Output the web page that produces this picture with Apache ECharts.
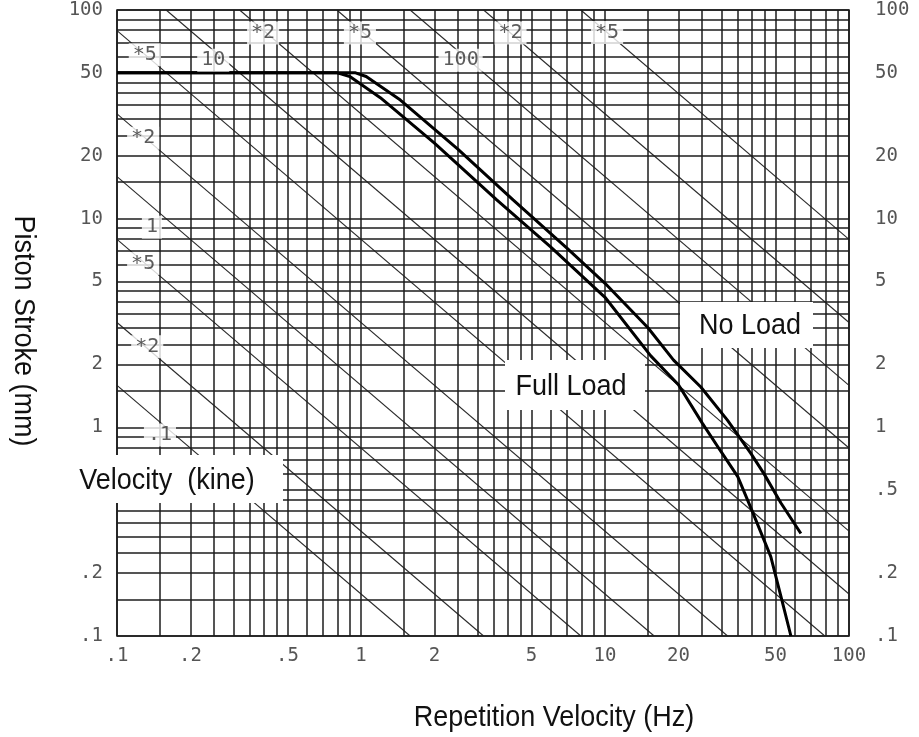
<!DOCTYPE html>
<html><head><meta charset="utf-8">
<script src="https://cdn.jsdelivr.net/npm/echarts@6/dist/echarts.min.js"></script>
<style>html,body{margin:0;padding:0;background:#fff}#c{width:919px;height:737px}</style>
</head><body><div id="c"></div>
<script>
// ---- tick labels ----
const xTickValues = [0.1, 0.2, 0.5, 1, 2, 5, 10, 20, 50, 100];
const xTickLabels = ['.1', '.2', '.5', '1', '2', '5', '10', '20', '50', '100'];
const yLeftTickValues = [0.1, 0.2, 1, 2, 5, 10, 20, 50, 100];
const yRightTickValues = [0.1, 0.2, 0.5, 1, 2, 5, 10, 20, 50, 100];
const yTickLabels = ['.1', '.2', '.5', '1', '2', '5', '10', '20', '50', '100'];
const yTickLabelValues = [0.1, 0.2, 0.5, 1, 2, 5, 10, 20, 50, 100];

// ---- log-paper grid lines ----
const gridLineValues = [0.1, 0.15, 0.2, 0.25, 0.3, 0.35, 0.4, 0.45, 0.5, 0.6, 0.7, 0.8, 0.9,
  1, 1.5, 2, 2.5, 3, 3.5, 4, 4.5, 5, 6, 7, 8, 9,
  10, 15, 20, 25, 30, 35, 40, 45, 50, 60, 70, 80, 90, 100];

// ---- constant-velocity lines (kine) ----
const velocityValues = [0.1, 0.2, 0.5, 1, 2, 5, 10, 20, 50, 100, 200, 500];
const velocityStartF = [0.1, 0.1, 0.1, 0.1, 0.1, 0.1, 0.159, 0.318, 0.796, 1.59, 3.18, 7.96];
const velocityStartS = [1.59, 3.18, 7.96, 15.9, 31.8, 79.6, 100, 100, 100, 100, 100, 100];
const velocityEndF = [1.59, 3.18, 7.96, 15.9, 31.8, 79.6, 100, 100, 100, 100, 100, 100];
const velocityEndS = [0.1, 0.1, 0.1, 0.1, 0.1, 0.1, 0.159, 0.318, 0.796, 1.59, 3.18, 7.96];

// ---- velocity line labels ----
const velocityLabelText = ['.1', '*2', '*5', '1', '*2', '*5', '10', '*2', '*5', '100', '*2', '*5'];
const velocityLabelF = [0.15, 0.133, 0.128, 0.139, 0.128, 0.130, 0.248, 0.397, 0.99, 2.56, 4.1, 10.2];
const velocityLabelS = [0.92, 2.43, 6.1, 9.1, 24.3, 61, 57.5, 77.5, 77.5, 57.5, 77.5, 78];

// ---- performance curves ----
const fullLoadF = [0.1, 0.8, 0.9, 1.2, 2, 3.6, 6, 10, 15.4, 20, 25, 30, 35, 40, 47.8, 52.6, 57.8];
const fullLoadS = [50, 50, 48, 38, 23, 12.3, 7.3, 4.2, 2.2, 1.6, 1.05, 0.76, 0.58, 0.4, 0.24, 0.155, 0.1];
const noLoadF = [0.1, 0.95, 1.05, 1.45, 2.5, 4.2, 7, 10, 15, 19.1, 24.7, 31.8, 39.6, 44.8, 52.6, 63.5];
const noLoadS = [50, 50, 48, 37, 21.5, 12.3, 7.2, 4.9, 3.0, 2.1, 1.56, 1.08, 0.75, 0.6, 0.434, 0.31];

function labelFor(values, labels) {
  return function (v) {
    for (let i = 0; i < values.length; i++) {
      if (Math.abs(Math.log10(v) - Math.log10(values[i])) < 1e-4) return labels[i];
    }
    return '';
  };
}

const tickFont = {fontFamily: 'DejaVu Sans Mono', fontSize: 19, color: '#555'};
const gridColor = '#1c1c1c';

const chart = echarts.init(document.getElementById('c'), null, {renderer: 'canvas'});

const series = [];
// grid lines as markLines
series.push({
  type: 'line', data: [[0.1, 0.1]], symbol: 'none', lineStyle: {width: 0}, silent: true, z: 2,
  markLine: {
    silent: true, symbol: ['none', 'none'], label: {show: false}, animation: false,
    emphasis: {disabled: true},
    lineStyle: {color: gridColor, width: 1.5, type: 'solid'},
    data: gridLineValues.map(v => ({xAxis: v})).concat(gridLineValues.map(v => ({yAxis: v})))
  }
});
// velocity lines
velocityValues.forEach((v, i) => {
  series.push({
    type: 'line', name: 'v' + v, symbol: 'none', silent: true, z: 3,
    lineStyle: {color: '#2a2a2a', width: 1.1},
    data: [[velocityStartF[i], velocityStartS[i]], [velocityEndF[i], velocityEndS[i]]]
  });
});
// curves
series.push({
  type: 'line', name: 'Full Load', symbol: 'none', z: 5, silent: true,
  lineStyle: {color: '#000', width: 3},
  data: fullLoadF.map((f, i) => [f, fullLoadS[i]])
});
series.push({
  type: 'line', name: 'No Load', symbol: 'none', z: 5, silent: true,
  lineStyle: {color: '#000', width: 3},
  data: noLoadF.map((f, i) => [f, noLoadS[i]])
});
// velocity labels
series.push({
  type: 'scatter', symbolSize: 1, z: 8, silent: true,
  itemStyle: {color: 'rgba(0,0,0,0)'},
  label: {
    show: true, position: 'inside', formatter: p => p.data[2],
    fontFamily: 'DejaVu Sans Mono', fontSize: 20, color: '#333',
    backgroundColor: '#fff', padding: [2, 4, 1, 4]
  },
  data: velocityLabelF.map((f, i) => [f, velocityLabelS[i], velocityLabelText[i]])
});

const option = {
  animation: false,
  backgroundColor: '#fff',
  grid: {left: 117, top: 10, width: 732, height: 626, show: true, borderColor: '#1c1c1c', borderWidth: 1.6, backgroundColor: '#fff'},
  xAxis: {
    type: 'log', logBase: 10, min: 0.1, max: 100,
    axisLine: {show: false}, axisTick: {show: false}, splitLine: {show: false}, minorSplitLine: {show: false},
    axisLabel: Object.assign({customValues: xTickValues, formatter: labelFor(xTickValues, xTickLabels), margin: 11, showMinLabel: true, showMaxLabel: true}, tickFont)
  },
  yAxis: [{
    type: 'log', logBase: 10, min: 0.1, max: 100, position: 'left',
    axisLine: {show: false}, axisTick: {show: false}, splitLine: {show: false},
    axisLabel: Object.assign({customValues: yLeftTickValues, formatter: labelFor(yTickLabelValues, yTickLabels), margin: 14, showMinLabel: true, showMaxLabel: true}, tickFont)
  }, {
    type: 'log', logBase: 10, min: 0.1, max: 100, position: 'right',
    axisLine: {show: false}, axisTick: {show: false}, splitLine: {show: false},
    axisLabel: Object.assign({customValues: yRightTickValues, formatter: labelFor(yTickLabelValues, yTickLabels), margin: 26, showMinLabel: true, showMaxLabel: true}, tickFont)
  }],
  series: series,
  graphic: [
    {type: 'rect', z: 20, shape: {x: 75, y: 455, width: 208, height: 48}, style: {fill: '#fff'}},
    {type: 'text', z: 21, x: 167, y: 481, scaleY: 1.1, style: {text: 'Velocity  (kine)', font: '27px "Liberation Sans"', fill: '#111', align: 'center', verticalAlign: 'middle'}},
    {type: 'rect', z: 20, shape: {x: 680, y: 302, width: 133, height: 46}, style: {fill: '#fff'}},
    {type: 'text', z: 21, x: 750, y: 326, scaleY: 1.1, style: {text: 'No Load', font: '27px "Liberation Sans"', fill: '#111', align: 'center', verticalAlign: 'middle'}},
    {type: 'rect', z: 20, shape: {x: 505, y: 360, width: 140, height: 50}, style: {fill: '#fff'}},
    {type: 'text', z: 21, x: 571, y: 387, scaleY: 1.1, style: {text: 'Full Load', font: '27px "Liberation Sans"', fill: '#111', align: 'center', verticalAlign: 'middle'}},
    {type: 'text', z: 21, x: 23, y: 331, rotation: -Math.PI / 2, scaleY: 1.1, style: {text: 'Piston Stroke (mm)', font: '27px "Liberation Sans"', fill: '#111', align: 'center', verticalAlign: 'middle'}},
    {type: 'text', z: 21, x: 554, y: 718, scaleY: 1.1, style: {text: 'Repetition Velocity (Hz)', font: '27px "Liberation Sans"', fill: '#111', align: 'center', verticalAlign: 'middle'}}
  ]
};
chart.setOption(option);
</script></body></html>
